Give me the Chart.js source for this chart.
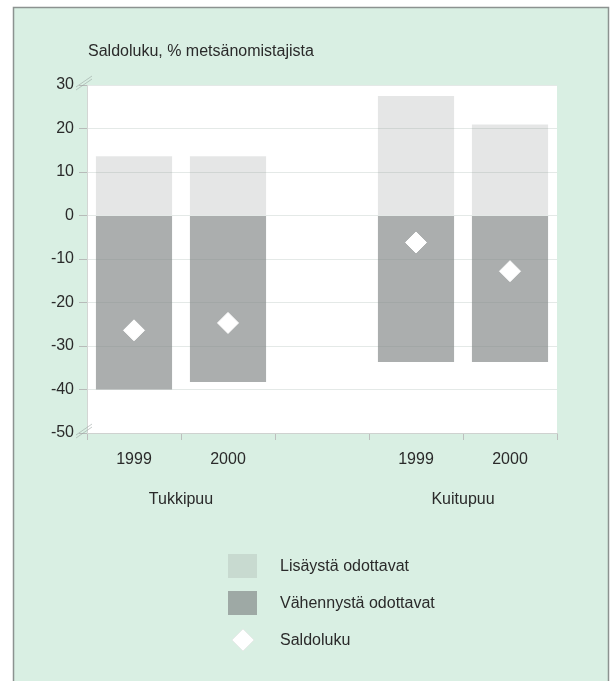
<!DOCTYPE html>
<html>
<head>
<meta charset="utf-8">
<title>Saldoluku</title>
<script src="https://cdn.jsdelivr.net/npm/chart.js@4/dist/chart.umd.min.js"></script>
<style>
  html, body { margin: 0; padding: 0; background: #ffffff; }
  #wrap { position: relative; width: 612px; height: 681px; }
  canvas { display: block; }
</style>
</head>
<body>
<div id="wrap"><canvas id="chart" width="612" height="681"></canvas></div>
<script>
// Categories: years, grouped by timber assortment (empty slot separates the groups)
const yearLabels = ['1999', '2000', '', '1999', '2000'];
const groupNames = ['Tukkipuu', 'Kuitupuu'];
const groupOf    = [0, 0, null, 1, 1];

// Share of forest owners expecting an increase / a decrease, and the balance
const increase = [13.6, 13.6, null, 27.5, 20.9];
const decrease = [-40.0, -38.3, null, -33.7, -33.7];
const balance  = [-26.4, -24.7, null, -6.2, -12.8];

const seriesNames = ['Lisäystä odottavat', 'Vähennystä odottavat', 'Saldoluku'];
const titleText = 'Saldoluku, % metsänomistajista';
const yTicks = [-50, -40, -30, -20, -10, 0, 10, 20, 30];

const FONT = '"Liberation Sans", Arial, Helvetica, sans-serif';
const TEXT = '#2a2a2a';

// Centre of each group on the category axis, in slot-edge units
const groupCenters = groupNames.map((_, g) => {
  const idx = groupOf.map((v, i) => v === g ? i + 0.5 : null).filter(v => v !== null);
  return idx.reduce((a, b) => a + b, 0) / idx.length;
});

// Panel background, white plot wall and title
const backdrop = {
  id: 'backdrop',
  beforeDraw(chart) {
    const { ctx, chartArea: a } = chart;
    ctx.save();
    ctx.fillStyle = '#ffffff';
    ctx.fillRect(0, 0, chart.width, chart.height);
    ctx.fillStyle = '#d9efe3';
    ctx.fillRect(13, 7, 596, chart.height - 7);
    ctx.strokeStyle = '#8c9290';
    ctx.lineWidth = 1.5;
    ctx.beginPath();
    ctx.moveTo(13.5, chart.height);
    ctx.lineTo(13.5, 7.5);
    ctx.lineTo(608.5, 7.5);
    ctx.lineTo(608.5, chart.height);
    ctx.stroke();
    ctx.fillStyle = '#ffffff';
    ctx.fillRect(a.left, a.top, a.right - a.left, a.bottom - a.top);
    ctx.fillStyle = TEXT;
    ctx.font = '16px ' + FONT;
    ctx.textAlign = 'left';
    ctx.textBaseline = 'alphabetic';
    ctx.fillText(titleText, a.left + 1, 56);
    ctx.restore();
  },
  // faint perspective strokes at the top and bottom corners of the wall
  afterDraw(chart) {
    const { ctx, chartArea: a, scales } = chart;
    ctx.save();
    ctx.strokeStyle = 'rgba(150,160,156,0.55)';
    ctx.lineWidth = 1;
    [scales.y.max, scales.y.min].forEach(v => {
      const y = scales.y.getPixelForValue(v);
      [0, 3].forEach(d => {
        ctx.beginPath();
        ctx.moveTo(a.left - 11, y + 2 + d);
        ctx.lineTo(a.left + 5, y - 9 + d);
        ctx.stroke();
      });
    });
    ctx.restore();
  }
};

// Vertical legend below the axes
const sideLegend = {
  id: 'sideLegend',
  afterDraw(chart) {
    const { ctx } = chart;
    const rows = [566, 603, 640];
    ctx.save();
    ctx.font = '16px ' + FONT;
    ctx.textBaseline = 'middle';
    ctx.textAlign = 'left';
    chart.data.datasets.forEach((ds, i) => {
      const y = rows[i];
      if (ds.type === 'line') {
        ctx.fillStyle = ds.pointBackgroundColor;
        ctx.strokeStyle = '#e6ebe8';
        ctx.lineWidth = 1;
        Chart.helpers.drawPoint(ctx, { pointStyle: 'rectRot', radius: 11, borderWidth: 1, rotation: 0 }, 243, y);
      } else {
        ctx.fillStyle = ds.backgroundColor;
        ctx.fillRect(228, y - 12, 29, 24);
      }
      ctx.fillStyle = TEXT;
      ctx.fillText(ds.label, 280, y + 1);
    });
    ctx.restore();
  }
};

new Chart(document.getElementById('chart'), {
  data: {
    labels: yearLabels,
    datasets: [
      {
        type: 'bar',
        label: seriesNames[0],
        data: increase,
        backgroundColor: 'rgba(146,150,150,0.24)',
        stack: 'owners',
        order: 2
      },
      {
        type: 'bar',
        label: seriesNames[1],
        data: decrease,
        backgroundColor: 'rgba(128,132,132,0.66)',
        stack: 'owners',
        order: 2
      },
      {
        type: 'line',
        label: seriesNames[2],
        data: balance,
        showLine: false,
        pointStyle: 'rectRot',
        pointRadius: 10.5,
        pointHoverRadius: 10.5,
        pointBackgroundColor: '#ffffff',
        pointBorderColor: '#ffffff',
        pointBorderWidth: 1,
        order: 1
      }
    ]
  },
  options: {
    responsive: false,
    animation: false,
    events: [],
    layout: { padding: { left: 13, right: 55, top: 85, bottom: 163 } },
    datasets: {
      bar: { categoryPercentage: 1, barPercentage: 0.81 }
    },
    plugins: {
      legend: { display: false },
      title: { display: false },
      tooltip: { enabled: false }
    },
    scales: {
      x: {
        type: 'category',
        stacked: true,
        offset: true,
        afterFit(s) { s.height = 45; },
        grid: {
          offset: true,
          drawOnChartArea: false,
          drawTicks: true,
          tickLength: 7,
          tickColor: '#bdbfbe'
        },
        border: { display: true, color: '#cfd2d0' },
        ticks: { color: TEXT, font: { family: FONT, size: 16 }, padding: 10, maxRotation: 0 }
      },
      groups: {
        type: 'linear',
        position: 'bottom',
        min: 0,
        max: yearLabels.length,
        afterFit(s) { s.height = 40; },
        afterBuildTicks(s) { s.ticks = groupCenters.map(v => ({ value: v })); },
        grid: { display: false, drawTicks: false },
        border: { display: false },
        ticks: {
          color: TEXT,
          font: { family: FONT, size: 16 },
          padding: 12,
          maxRotation: 0,
          autoSkip: false,
          callback(value) {
            const g = groupCenters.indexOf(value);
            return g >= 0 ? groupNames[g] : '';
          }
        }
      },
      y: {
        stacked: true,
        min: -50,
        max: 30,
        afterFit(s) { s.width = 74; },
        afterBuildTicks(s) { s.ticks = yTicks.map(v => ({ value: v })); },
        grid: {
          color: '#e4e9e7',
          drawTicks: true,
          tickLength: 8,
          tickColor: '#b7bbb9'
        },
        border: { display: true, color: '#d3d6d4' },
        ticks: { color: TEXT, font: { family: FONT, size: 16 }, padding: 5 }
      }
    }
  },
  plugins: [backdrop, sideLegend]
});
</script>
</body>
</html>
